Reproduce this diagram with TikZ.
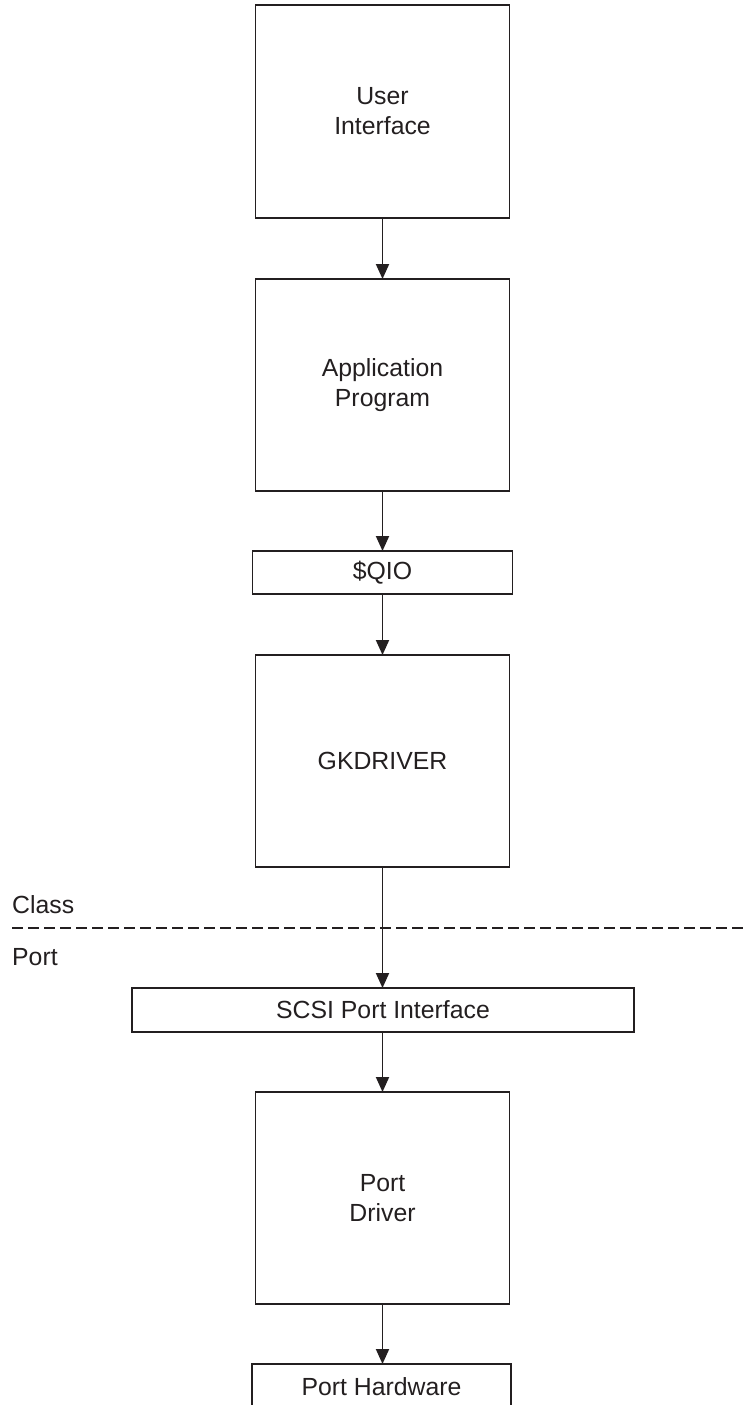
\documentclass[tikz,border=0pt]{standalone}
\usepackage{fontspec}
\setmainfont{Liberation Sans}
\usetikzlibrary{arrows.meta}
\definecolor{ink}{HTML}{231F20}
\tikzset{
  blk/.style={draw=ink, line width=1.9pt, outer sep=0pt, inner sep=0pt, align=center, text=ink,
    font=\fontsize{24.8}{30}\selectfont},
  flow/.style={draw=ink, line width=1.9pt, -{Triangle[length=15pt,width=13pt]}},
  lbl/.style={anchor=base west, inner sep=0pt, text=ink, font=\fontsize{24.8}{30}\selectfont}
}
\begin{document}
\begin{tikzpicture}[x=1pt, y=-1pt]
\useasboundingbox (0,0) rectangle (745,1405);
\node[blk, minimum width=254pt, minimum height=213pt] (ui) at (382.5,111.5) {User\\Interface};
\node[blk, minimum width=254pt, minimum height=212pt] (app) at (382.5,385) {Application\\Program};
\node[blk, minimum width=260pt, minimum height=43pt] (qio) at (382.5,572.5) {\$QIO};
\node[blk, minimum width=254pt, minimum height=212pt] (gk) at (382.5,761) {GKDRIVER};
\node[blk, minimum width=502pt, minimum height=44pt] (scsi) at (383,1010) {SCSI Port Interface};
\node[blk, minimum width=254pt, minimum height=212pt] (pd) at (382.5,1198) {Port\\Driver};
\node[blk, minimum width=259pt, minimum height=46pt] (ph) at (381.5,1387) {Port Hardware};
\coordinate (dl) at (12,928);
\coordinate (dr) at (745,928);
\draw[draw=ink, line width=1.9pt, dash pattern=on 11pt off 5pt] (dl) -- (dr);
\node[lbl] (cls) at (12,913) {Class};
\node[lbl] (prt) at (12,965) {Port};
\draw[flow] (ui.south) -- (app.north);
\draw[flow] (app.south) -- (qio.north);
\draw[flow] (qio.south) -- (gk.north);
\draw[flow] (gk.south) -- (gk.south |- scsi.north);
\draw[flow] (pd.north |- scsi.south) -- (pd.north);
\draw[flow] (pd.south) -- (pd.south |- ph.north);
\end{tikzpicture}
\end{document}
